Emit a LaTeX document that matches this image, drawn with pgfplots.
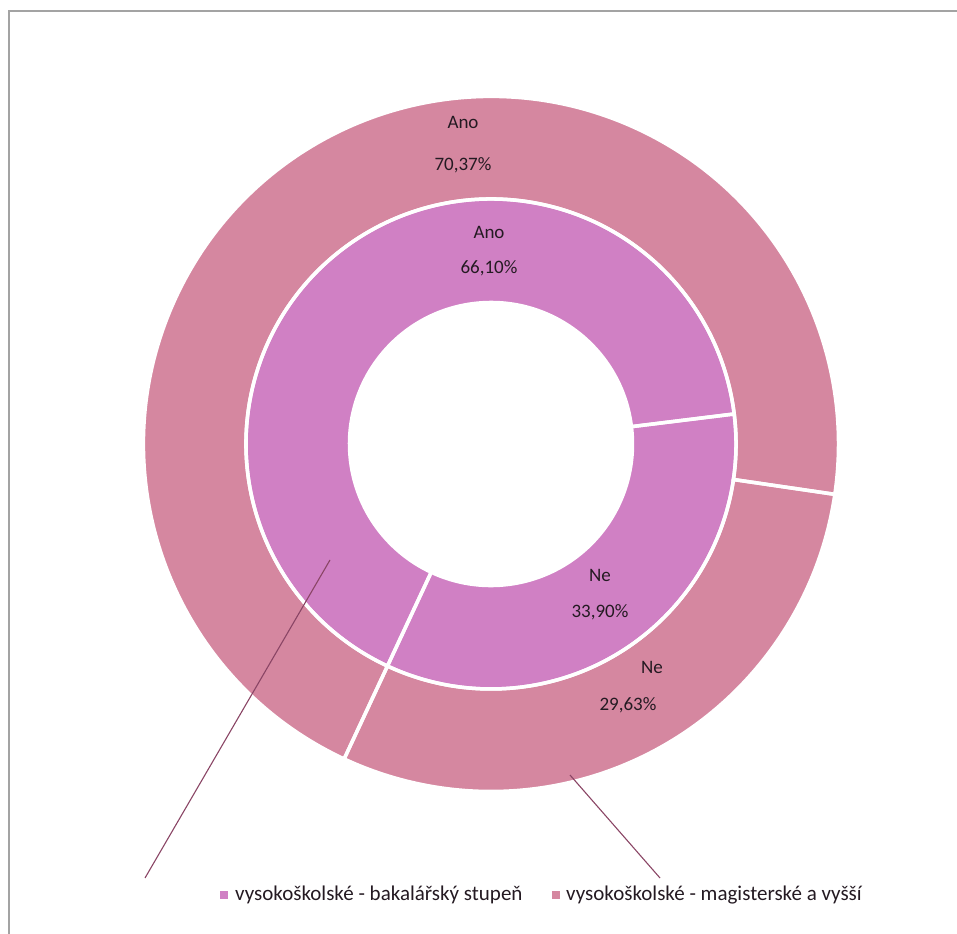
\documentclass[border=0pt]{standalone}
\usepackage{pgfplots}
\pgfplotsset{compat=1.18}
\usepackage{pgfplotstable}
\usepackage{fontspec}
\setmainfont{Carlito}
\definecolor{outerc}{HTML}{D587A0}
\definecolor{innerc}{HTML}{D080C4}
\definecolor{lead}{HTML}{8A4565}
\definecolor{txt}{HTML}{241A22}
\definecolor{frame}{HTML}{A3A3A3}

\pgfplotstableread{
series ano ne
inner 66.10 33.90
outer 70.37 29.63
}\ringdata
\pgfplotstablegetelem{0}{ano}\of\ringdata \let\innerAno\pgfplotsretval
\pgfplotstablegetelem{1}{ano}\of\ringdata \let\outerAno\pgfplotsretval
\pgfmathsetmacro{\st}{-115}
\pgfmathsetmacro{\ib}{\st-3.6*\innerAno}
\pgfmathsetmacro{\ob}{\st-3.6*\outerAno}
\pgfmathsetmacro{\ie}{\st-360}

\begin{document}
\begin{tikzpicture}
\useasboundingbox (0,0) rectangle (957pt,933pt);
\begin{axis}[x=1pt,y=1pt,xmin=0,xmax=957,ymin=0,ymax=933,hide axis,clip=false,
  anchor=south west, at={(0,0)}, scale only axis]
% frame
\draw[frame, line width=2.5pt] (axis cs:9,-5) -- (axis cs:9,922) -- (axis cs:965,922);
% inner ring
\fill[innerc] (axis cs:491,489) ++(\st:245pt) arc[start angle=\st,end angle=\ib,radius=245pt] -- ++({\ib+180}:103.5pt) arc[start angle=\ib,end angle=\st,radius=141.5pt] -- cycle;
\fill[innerc] (axis cs:491,489) ++(\ib:245pt) arc[start angle=\ib,end angle=\ie,radius=245pt] -- ++({\ie+180}:103.5pt) arc[start angle=\ie,end angle=\ib,radius=141.5pt] -- cycle;
% outer ring
\fill[outerc] (axis cs:491,489) ++(\st:347.5pt) arc[start angle=\st,end angle=\ob,radius=347.5pt] -- ++({\ob+180}:102.5pt) arc[start angle=\ob,end angle=\st,radius=245pt] -- cycle;
\fill[outerc] (axis cs:491,489) ++(\ob:347.5pt) arc[start angle=\ob,end angle=\ie,radius=347.5pt] -- ++({\ie+180}:102.5pt) arc[start angle=\ie,end angle=\ob,radius=245pt] -- cycle;
% white separators
\draw[white, line width=3.5pt] (axis cs:491,489) ++(\st:245pt) arc[start angle=\st,end angle=\ib,radius=245pt] -- ++({\ib+180}:103.5pt) arc[start angle=\ib,end angle=\st,radius=141.5pt] -- cycle;
\draw[white, line width=3.5pt] (axis cs:491,489) ++(\ib:245pt) arc[start angle=\ib,end angle=\ie,radius=245pt] -- ++({\ie+180}:103.5pt) arc[start angle=\ie,end angle=\ib,radius=141.5pt] -- cycle;
\draw[white, line width=3.5pt] (axis cs:491,489) ++(\st:347.5pt) arc[start angle=\st,end angle=\ob,radius=347.5pt] -- ++({\ob+180}:102.5pt) arc[start angle=\ob,end angle=\st,radius=245pt] -- cycle;
\draw[white, line width=3.5pt] (axis cs:491,489) ++(\ob:347.5pt) arc[start angle=\ob,end angle=\ie,radius=347.5pt] -- ++({\ie+180}:102.5pt) arc[start angle=\ie,end angle=\ob,radius=245pt] -- cycle;
% leader lines
\draw[lead, line width=1.1pt] (axis cs:145,55) -- (axis cs:330,373);
\draw[lead, line width=1.1pt] (axis cs:660,55) -- (axis cs:570,158);
% data labels
\node[txt, font=\fontsize{19}{21}\selectfont] at (axis cs:463,811) {Ano};
\node[txt, font=\fontsize{19}{21}\selectfont] at (axis cs:463,768) {70,37\%};
\node[txt, font=\fontsize{19}{21}\selectfont] at (axis cs:489,701) {Ano};
\node[txt, font=\fontsize{19}{21}\selectfont] at (axis cs:489,665) {66,10\%};
\node[txt, font=\fontsize{19}{21}\selectfont] at (axis cs:600,358) {Ne};
\node[txt, font=\fontsize{19}{21}\selectfont] at (axis cs:600,321) {33,90\%};
\node[txt, font=\fontsize{19}{21}\selectfont] at (axis cs:652,266) {Ne};
\node[txt, font=\fontsize{19}{21}\selectfont] at (axis cs:628,228) {29,63\%};
% legend
\fill[innerc] (axis cs:220,34) rectangle (axis cs:228,42);
\node[txt, anchor=west, inner sep=0pt, font=\fontsize{21}{23}\selectfont] at (axis cs:235,38) {vysokoškolské - bakalářský stupeň};
\fill[outerc] (axis cs:552,34) rectangle (axis cs:560,42);
\node[txt, anchor=west, inner sep=0pt, font=\fontsize{21}{23}\selectfont] at (axis cs:566,38) {vysokoškolské - magisterské a vyšší};
\end{axis}
\end{tikzpicture}
\end{document}
